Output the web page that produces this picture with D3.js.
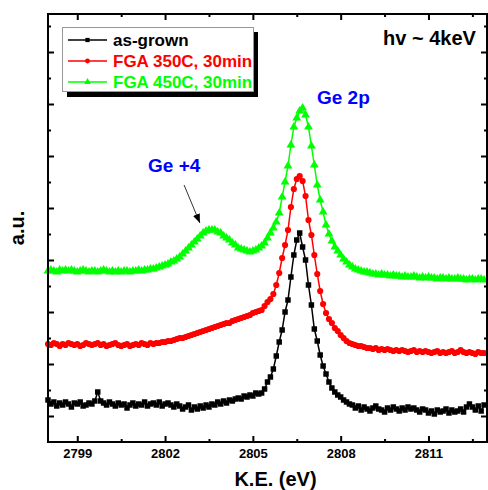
<!DOCTYPE html>
<html>
<head>
<meta charset="utf-8">
<script src="https://cdn.jsdelivr.net/npm/d3@7"></script>
<style>
  body { margin: 0; background: #fff; }
  svg text { font-family: Arial, "Liberation Sans", sans-serif; font-weight: bold; }
</style>
</head>
<body>
<svg></svg>
<script>
// kinetic energy grid (eV), 0.1 eV steps
const energyStart = 2798.0;
const energyStep = 0.1;

// intensities in a.u.
const asGrown = [42,38,40,36,39,37,40,38,35,39,
  38,40,36,37,39,38,41,50,41,39,
  37,40,38,36,39,37,38,34,37,39,
  36,38,37,40,36,38,39,37,40,36,
  38,39,37,35,38,36,33,35,37,32,
  35,33,36,34,37,35,38,37,40,38,
  41,39,42,41,43,44,43,46,45,47,
  46,49,48,49,53,60,65,73,86,100,
  112,130,142,165,187,202,209,195,182,157,
  137,113,101,87,76,68,60,54,50,47,
  45,42,40,38,37,34,36,32,35,33,
  31,34,36,33,32,30,34,32,35,33,
  31,34,32,35,33,34,32,30,33,32,
  29,31,28,32,30,31,33,29,32,30,
  31,33,30,35,38,35,32,36,31,37];

const fga350 = [98,97,99,98,96,98,97,99,98,97,
  98,96,97,99,98,97,98,99,97,98,
  96,97,98,99,97,96,97,98,96,97,
  98,97,99,98,97,99,98,99,99,100,
  100,101,101,102,103,104,104,105,106,107,
  108,109,110,111,112,113,114,115,116,117,
  118,119,119,121,122,123,124,125,126,127,
  129,130,131,132,136,140,143,148,157,169,
  184,197,212,235,253,263,266,261,246,222,
  207,187,168,151,138,129,123,119,114,111,
  107,104,101,99,98,97,96,96,95,94,
  94,93,94,92,93,92,93,92,91,92,
  91,92,91,90,91,92,90,91,90,91,
  90,89,90,91,89,90,89,90,91,89,
  90,92,90,89,90,89,88,90,89,89];

const fga450 = [171,172,171,170,172,171,172,171,172,171,
  170,171,172,171,170,171,171,170,171,172,
  171,170,171,170,171,170,171,171,170,171,
  171,172,171,172,172,173,173,174,175,176,
  177,178,180,181,183,185,188,191,194,197,
  200,203,206,209,211,212,212,212,210,209,
  206,204,202,199,197,194,193,192,191,190,
  191,192,194,196,199,204,209,214,220,229,
  245,260,276,297,315,324,331,334,327,315,
  296,277,257,242,230,217,208,201,195,191,
  187,183,180,177,175,173,172,171,170,170,
  169,168,168,167,168,167,167,166,167,166,
  166,165,166,165,165,166,165,164,165,164,
  165,164,164,163,164,164,163,164,163,163,
  164,163,163,162,163,163,162,163,163,162];

const seriesNames = ["as-grown", "FGA 350C, 30min", "FGA 450C, 30min"];
const seriesColors = ["#000000", "#ff0000", "#00ff00"];
const seriesValues = [asGrown, fga350, fga450];

const xTicks = [2799, 2802, 2805, 2808, 2811];
const xMinorTicks = [2800.5, 2803.5, 2806.5, 2809.5, 2812.5];
const yMajorTicks = [26, 78, 130, 182, 234, 286, 338, 390];
const yMinorTicks = [52, 104, 156, 208, 260, 312, 364, 416];

const width = 488;
const height = 490;
const margin = { top: 14, right: 1, bottom: 48, left: 48 };

const x = d3.scaleLinear()
    .domain([2798, 2813])
    .range([margin.left, width - margin.right]);

const y = d3.scaleLinear()
    .domain([0, 428])
    .range([height - margin.bottom, margin.top]);

const svg = d3.select("svg")
    .attr("width", width)
    .attr("height", height);

// ticks (all pointing inward)
function drawTicks(axis, transform, ticks, size, labels) {
    const g = svg.append("g")
        .attr("transform", transform)
        .call(axis.tickValues(ticks).tickSize(-size).tickPadding(7)
            .tickFormat(labels ? d3.format("d") : ""));
    g.select(".domain").remove();
    g.selectAll(".tick line").attr("stroke", "#000").attr("stroke-width", 2);
    g.selectAll(".tick text").attr("font-size", 13).attr("fill", "#000");
    return g;
}

const x0 = margin.left, x1 = width - margin.right;
const y0 = height - margin.bottom, y1 = margin.top;

drawTicks(d3.axisBottom(x), `translate(0,${y0})`, xTicks, 6, true);
drawTicks(d3.axisBottom(x), `translate(0,${y0})`, xMinorTicks, 3, false);
drawTicks(d3.axisTop(x), `translate(0,${y1})`, xTicks, 6, false);
drawTicks(d3.axisTop(x), `translate(0,${y1})`, xMinorTicks, 3, false);
drawTicks(d3.axisLeft(y), `translate(${x0},0)`, yMajorTicks, 6, false);
drawTicks(d3.axisLeft(y), `translate(${x0},0)`, yMinorTicks, 3, false);
drawTicks(d3.axisRight(y), `translate(${x1},0)`, yMajorTicks, 6, false);
drawTicks(d3.axisRight(y), `translate(${x1},0)`, yMinorTicks, 3, false);

// data
const line = d3.line()
    .x((d, i) => x(energyStart + i * energyStep))
    .y(d => y(d));

const symbols = [
    d3.symbol().type(d3.symbolSquare).size(30),
    d3.symbol().type(d3.symbolCircle).size(30),
    d3.symbol().type(d3.symbolTriangle).size(34)
];

const plot = svg.append("g");

seriesValues.forEach((vals, s) => {
    plot.append("path")
        .attr("d", line(vals))
        .attr("fill", "none")
        .attr("stroke", seriesColors[s])
        .attr("stroke-width", 1.5);

    plot.append("g")
        .selectAll("path")
        .data(vals)
        .enter().append("path")
        .attr("transform", (d, i) => `translate(${x(energyStart + i * energyStep)},${y(d)})`)
        .attr("d", symbols[s]())
        .attr("fill", seriesColors[s]);
});

// frame
svg.append("rect")
    .attr("x", x0)
    .attr("y", y1)
    .attr("width", x1 - x0)
    .attr("height", y0 - y1)
    .attr("fill", "none")
    .attr("stroke", "#000")
    .attr("stroke-width", 2);

// axis titles
svg.append("text")
    .attr("x", (x0 + x1) / 2 + 8)
    .attr("y", 486)
    .attr("text-anchor", "middle")
    .attr("font-size", 20)
    .text("K.E. (eV)");

svg.append("text")
    .attr("transform", `translate(24,${(y0 + y1) / 2}) rotate(-90)`)
    .attr("text-anchor", "middle")
    .attr("font-size", 20)
    .text("a.u.");

// legend
const legend = svg.append("g").attr("transform", "translate(62,27)");
legend.append("rect")
    .attr("x", 5).attr("y", 5)
    .attr("width", 191).attr("height", 65)
    .attr("fill", "#000");
legend.append("rect")
    .attr("x", 0.5).attr("y", 0.5)
    .attr("width", 191).attr("height", 64)
    .attr("fill", "#fff")
    .attr("stroke", "#999")
    .attr("stroke-width", 1);

const legendSymbols = [
    d3.symbol().type(d3.symbolSquare).size(18),
    d3.symbol().type(d3.symbolCircle).size(18),
    d3.symbol().type(d3.symbolTriangle).size(20)
];

seriesNames.forEach((name, s) => {
    const row = legend.append("g").attr("transform", `translate(0,${13 + s * 21})`);
    row.append("line")
        .attr("x1", 6).attr("x2", 45)
        .attr("stroke", seriesColors[s])
        .attr("stroke-width", 1.3);
    row.append("path")
        .attr("transform", "translate(25.5,0)")
        .attr("d", legendSymbols[s]())
        .attr("fill", seriesColors[s]);
    row.append("text")
        .attr("x", 51)
        .attr("dy", "0.36em")
        .attr("font-size", 17)
        .attr("fill", seriesColors[s])
        .text(name);
});

// annotations
svg.append("text")
    .attr("x", x(2809.45))
    .attr("y", y(397))
    .attr("font-size", 20)
    .text("hv ~ 4keV");

svg.append("text")
    .attr("x", x(2807.19))
    .attr("y", y(338))
    .attr("font-size", 19)
    .attr("fill", "#0000ff")
    .text("Ge 2p");

svg.append("text")
    .attr("x", x(2801.42))
    .attr("y", y(270))
    .attr("font-size", 19)
    .attr("fill", "#0000ff")
    .text("Ge +4");

svg.append("defs").append("marker")
    .attr("id", "arrow")
    .attr("viewBox", "0 0 10 10")
    .attr("refX", 10).attr("refY", 5)
    .attr("markerWidth", 9).attr("markerHeight", 9)
    .attr("markerUnits", "userSpaceOnUse")
    .attr("orient", "auto")
    .append("path")
    .attr("d", "M0,1L10,5L0,9Z")
    .attr("fill", "#000");

svg.append("line")
    .attr("x1", x(2802.65)).attr("y1", y(257))
    .attr("x2", x(2803.19)).attr("y2", y(219))
    .attr("stroke", "#333")
    .attr("stroke-width", 1)
    .attr("marker-end", "url(#arrow)");
</script>
</body>
</html>
